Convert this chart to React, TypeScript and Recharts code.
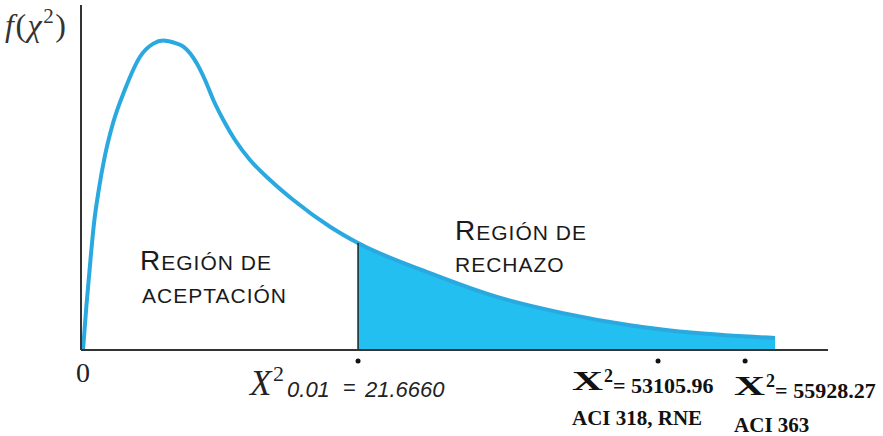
import {
  ComposedChart,
  Line,
  Area,
  XAxis,
  YAxis,
  ReferenceLine,
  Customized,
} from 'recharts';

// curve (schematic chi-square density)
const chiValues = [
  0, 0.26, 0.607, 0.867, 1.237, 1.71, 2.364, 3.285, 4.491, 5.539, 6.303, 7.287,
  7.902, 8.958, 9.612, 10.266, 11.053, 11.975, 13.157, 14.733, 16.568, 19.46,
  21.666, 27.34, 32.62, 37.82, 43.09, 48.37, 54.52,
];
const densityValues = [
  0, 0.01255, 0.02704, 0.03681, 0.04638, 0.05603, 0.0658, 0.07536, 0.08501,
  0.0888, 0.0897, 0.08893, 0.08791, 0.0831, 0.07826, 0.07246, 0.06667,
  0.06087, 0.05507, 0.04928, 0.04348, 0.03574, 0.031, 0.0223, 0.0154, 0.0107,
  0.0072, 0.0049, 0.0035,
];

const criticalValue = 21.666;
const criticalDensity = 0.031;

const tickValues = [0, criticalValue, 45.3, 52.16];
const tickNames = ['0', '0.01', '53105.96', '55928.27'];
const tickNotes = ['', '', 'ACI 318, RNE', 'ACI 363'];

const curve = chiValues.map((x, i) => ({ x, y: densityValues[i] }));
const tail = curve.filter((p) => p.x >= criticalValue);

const SERIF = '"Liberation Serif", "Times New Roman", serif';
const SANS = '"Liberation Sans", Arial, sans-serif';

function AxisTick(props: any) {
  const { x, y, index } = props;
  if (index === 0) {
    return (
      <text x={x} y={y + 32} textAnchor='middle' fontFamily={SERIF} fontSize={28} fill='#222'>
        {tickNames[0]}
      </text>
    );
  }
  const dot = <circle cx={x} cy={y + 11} r={2.5} fill='#111' />;
  if (index === 1) {
    return (
      <g>
        {dot}
        <text x={x - 108} y={y + 45} fontFamily={SERIF} fontStyle='italic' fontSize={35} fill='#222'>
          X
        </text>
        <text x={x - 85} y={y + 31} fontFamily={SERIF} fontSize={22} fill='#222'>
          2
        </text>
        <text x={x - 71} y={y + 47} fontFamily={SANS} fontStyle='italic' fontSize={22} fill='#222'>
          {tickNames[1]}
        </text>
        <text x={x - 15} y={y + 45} fontFamily={SANS} fontSize={22} fill='#222'>
          =
        </text>
        <text x={x + 7} y={y + 47} fontFamily={SANS} fontStyle='italic' fontSize={22} fill='#222'>
          {criticalValue.toFixed(3) + '0'}
        </text>
      </g>
    );
  }
  const shift = index === 3 ? 5 : 0;
  const left = index === 3 ? x - 11 : x - 86;
  return (
    <g>
      {dot}
      <text
        x={left}
        y={y + 40 + shift}
        fontFamily={SERIF}
        fontWeight='bold'
        fontSize={27}
        fill='#111'
        textLength={31}
        lengthAdjust='spacingAndGlyphs'
      >
        X
      </text>
      <text x={left + 32} y={y + 32 + shift} fontFamily={SERIF} fontWeight='bold' fontSize={18} fill='#111'>
        2
      </text>
      <text x={left + 41} y={y + 43 + shift} fontFamily={SERIF} fontWeight='bold' fontSize={22} fill='#111'>
        {'= ' + tickNames[index]}
      </text>
      <text x={left} y={y + 75 + shift * 1.4} fontFamily={SERIF} fontWeight='bold' fontSize={21} fill='#111'>
        {tickNotes[index]}
      </text>
    </g>
  );
}

function Annotations() {
  const caps = { fontFamily: SANS, fill: '#1a1a1a', letterSpacing: 1 };
  return (
    <g>
      <text x={5} y={36} fontFamily={SERIF} fontSize={32} fill='#333' letterSpacing={1.5}>
        <tspan fontStyle='italic'>f</tspan>
        <tspan>(</tspan>
        <tspan fontStyle='italic'>χ</tspan>
        <tspan fontSize={21} dy={-13}>2</tspan>
        <tspan dy={13}>)</tspan>
      </text>
      <text x={140} y={270} {...caps}>
        <tspan fontSize={28}>R</tspan>
        <tspan fontSize={21}>EGIÓN DE</tspan>
      </text>
      <text x={142} y={303} fontSize={21} {...caps}>
        ACEPTACIÓN
      </text>
      <text x={455} y={240} {...caps}>
        <tspan fontSize={28}>R</tspan>
        <tspan fontSize={21}>EGIÓN DE</tspan>
      </text>
      <text x={455} y={272} fontSize={21} {...caps}>
        RECHAZO
      </text>
      <text x={416} y={323} fontFamily={SERIF} fontStyle='italic' fontWeight='bold' fontSize={32} fill='#111'>
        a
      </text>
    </g>
  );
}

export default function App() {
  return (
    <div style={{ position: 'absolute', left: 0, top: 0, background: '#fff' }}>
      <ComposedChart
        width={883}
        height={436}
        margin={{ top: 5, right: 55, bottom: 6, left: 21 }}
      >
        <XAxis
          type='number'
          dataKey='x'
          domain={[-0.16, 58.69]}
          allowDataOverflow
          ticks={tickValues}
          interval={0}
          tick={<AxisTick />}
          tickLine={false}
          tickSize={0}
          tickMargin={0}
          height={80}
          axisLine={{ stroke: '#333', strokeWidth: 2 }}
        />
        <YAxis
          type='number'
          dataKey='y'
          domain={[0, 0.1]}
          allowDataOverflow
          tick={false}
          tickLine={false}
          width={60}
          axisLine={{ stroke: '#333', strokeWidth: 2 }}
        />
        <Area
          data={tail}
          dataKey='y'
          type='monotone'
          stroke='none'
          fill='#22bff0'
          fillOpacity={1}
          baseValue={0}
          isAnimationActive={false}
        />
        <Line
          data={curve}
          dataKey='y'
          type='monotone'
          stroke='#2aa9e1'
          strokeWidth={4}
          dot={false}
          isAnimationActive={false}
        />
        <ReferenceLine
          segment={[
            { x: criticalValue, y: 0 },
            { x: criticalValue, y: criticalDensity },
          ]}
          stroke='#222'
          strokeWidth={1.5}
        />
        <Customized component={Annotations} />
      </ComposedChart>
    </div>
  );
}
